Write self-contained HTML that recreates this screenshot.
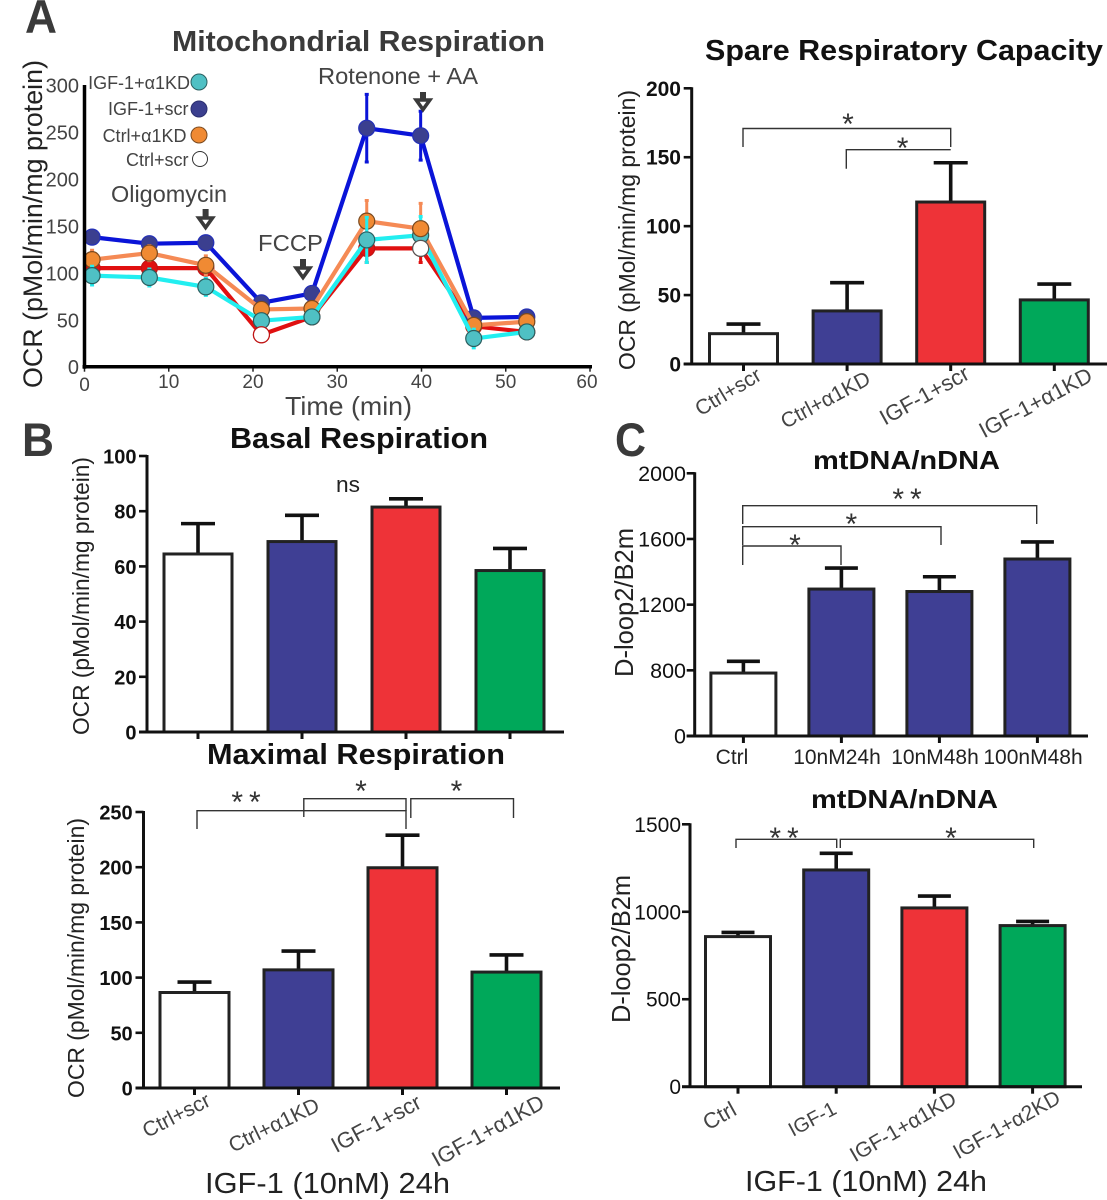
<!DOCTYPE html>
<html lang="en">
<head>
<meta charset="utf-8">
<title>Mitochondrial respiration figure</title>
<style>
html,body{margin:0;padding:0;background:#fff;}
svg{display:block;font-family:"Liberation Sans",Arial,sans-serif;}
.rot{font-size:21px;fill:#444;text-anchor:end;}
.br{fill:none;stroke:#333;stroke-width:1.4;}
.star{font-size:30px;fill:#333;text-anchor:middle;}
.dbl{letter-spacing:6px;}
.panel{font-size:47px;font-weight:bold;fill:#3a3a3a;}
.title{font-weight:bold;fill:#111;}
.ylab{fill:#222;}
.leg{font-size:18px;fill:#444;}
.note{font-size:23px;fill:#444;}
.arrow{fill:#fff;stroke:#3a3a3a;stroke-width:3.6;stroke-linejoin:miter;}
.shaft{stroke:#3a3a3a;stroke-width:6;}
</style>
</head>
<body>
<svg id="fig" width="1107" height="1200" viewBox="0 0 1107 1200" xmlns="http://www.w3.org/2000/svg">
<rect width="1107" height="1200" fill="#fff"/>

<text class="panel" x="25" y="33" textLength="32" lengthAdjust="spacingAndGlyphs">A</text>
<text class="panel" x="22" y="456" textLength="32" lengthAdjust="spacingAndGlyphs">B</text>
<text class="panel" x="615" y="456" textLength="31" lengthAdjust="spacingAndGlyphs">C</text>

<text class="title" x="172" y="51" font-size="29" style="fill:#3a3a3a" textLength="373" lengthAdjust="spacingAndGlyphs">Mitochondrial Respiration</text>
<text class="title" x="705" y="60" font-size="29" textLength="398" lengthAdjust="spacingAndGlyphs">Spare Respiratory Capacity</text>
<text class="title" x="230" y="448" font-size="29" textLength="258" lengthAdjust="spacingAndGlyphs">Basal Respiration</text>
<text class="title" x="207" y="764" font-size="29" textLength="298" lengthAdjust="spacingAndGlyphs">Maximal Respiration</text>
<text class="title" x="813" y="469" font-size="26" textLength="187" lengthAdjust="spacingAndGlyphs">mtDNA/nDNA</text>
<text class="title" x="811" y="808" font-size="26" textLength="187" lengthAdjust="spacingAndGlyphs">mtDNA/nDNA</text>

<text class="ylab" transform="translate(42,388) rotate(-90)" font-size="27" textLength="328" lengthAdjust="spacingAndGlyphs">OCR (pMol/min/mg protein)</text>
<text class="ylab" transform="translate(635,370) rotate(-90)" font-size="23" textLength="280" lengthAdjust="spacingAndGlyphs">OCR (pMol/min/mg protein)</text>
<text class="ylab" transform="translate(89,735) rotate(-90)" font-size="23" textLength="278" lengthAdjust="spacingAndGlyphs">OCR (pMol/min/mg protein)</text>
<text class="ylab" transform="translate(84,1098) rotate(-90)" font-size="23" textLength="280" lengthAdjust="spacingAndGlyphs">OCR (pMol/min/mg protein)</text>
<text class="ylab" transform="translate(633,677) rotate(-90)" font-size="26" textLength="149" lengthAdjust="spacingAndGlyphs">D-loop2/B2m</text>
<text class="ylab" transform="translate(630,1023) rotate(-90)" font-size="26" textLength="148" lengthAdjust="spacingAndGlyphs">D-loop2/B2m</text>

<text x="285" y="415" font-size="26" fill="#444" textLength="127" lengthAdjust="spacingAndGlyphs">Time (min)</text>
<text x="205" y="1193" font-size="29" fill="#222" textLength="245" lengthAdjust="spacingAndGlyphs">IGF-1 (10nM) 24h</text>
<text x="745" y="1191" font-size="29" fill="#222" textLength="242" lengthAdjust="spacingAndGlyphs">IGF-1 (10nM) 24h</text>
<text x="336" y="492" font-size="22" fill="#222" textLength="24" lengthAdjust="spacingAndGlyphs">ns</text>

<!-- Rotated category labels -->
<g>
<text class="rot" transform="translate(763,379) rotate(-31)">Ctrl+scr</text>
<text class="rot" transform="translate(872,383) rotate(-28)">Ctrl+α1KD</text>
<text class="rot" transform="translate(971,378) rotate(-29)" style="font-size:22px">IGF-1+scr</text>
<text class="rot" transform="translate(1094,380) rotate(-28)" style="font-size:22px">IGF-1+α1KD</text>
</g>
<g>
<text class="rot" transform="translate(212,1105) rotate(-27)">Ctrl+scr</text>
<text class="rot" transform="translate(321,1110) rotate(-26)">Ctrl+α1KD</text>
<text class="rot" transform="translate(423,1107) rotate(-28)" style="font-size:22px">IGF-1+scr</text>
<text class="rot" transform="translate(546,1107) rotate(-29)" style="font-size:22px">IGF-1+α1KD</text>
</g>
<g>
<text class="rot" transform="translate(738,1114) rotate(-29)" style="font-size:22px">Ctrl</text>
<text class="rot" transform="translate(838,1113) rotate(-28)" style="font-size:20px">IGF-1</text>
<text class="rot" transform="translate(958,1103) rotate(-30)">IGF-1+α1KD</text>
<text class="rot" transform="translate(1062,1102) rotate(-29)">IGF-1+α2KD</text>
</g>
<g font-size="21" fill="#222" text-anchor="middle">
<text x="732" y="764">Ctrl</text>
<text x="837" y="764">10nM24h</text>
<text x="935" y="764">10nM48h</text>
<text x="1033" y="764">100nM48h</text>
</g>

<!-- Significance brackets -->
<g>
<path class="br" d="M743 147V128.5H950.7V147"/>
<path class="br" d="M846.3 168.7V149.7H950.7"/>
<text class="star" x="848" y="134">*</text>
<text class="star" x="902.6" y="158">*</text>
</g>
<g>
<path class="br" d="M197 829V810.7H406V829"/>
<path class="br" d="M303.8 817V798.7H406V811"/>
<path class="br" d="M410.8 818V798.7H513.5V818"/>
<text class="star dbl" x="249" y="812">**</text>
<text class="star" x="361" y="801">*</text>
<text class="star" x="456.5" y="801">*</text>
</g>
<g>
<path class="br" d="M742.7 524V505.7H1036.7V524"/>
<path class="br" d="M742.7 545V526.7H941V545"/>
<path class="br" d="M742.7 565V546H841V565"/>
<text class="star dbl" x="910" y="509">**</text>
<text class="star" x="851.3" y="534">*</text>
<text class="star" x="795" y="555">*</text>
</g>
<g>
<path class="br" d="M736 848V839.3H836.7V848"/>
<path class="br" d="M840.3 848V839.3H1033.7V848"/>
<text class="star dbl" x="787" y="848">**</text>
<text class="star" x="951" y="848">*</text>
</g>

<!-- Treatment annotations -->
<text class="note" x="318" y="84" textLength="160" lengthAdjust="spacingAndGlyphs">Rotenone + AA</text>
<text class="note" x="111" y="202" textLength="116" lengthAdjust="spacingAndGlyphs">Oligomycin</text>
<text class="note" x="258" y="251" textLength="65" lengthAdjust="spacingAndGlyphs">FCCP</text>

<g id="line-chart"></g>

<g><line class="shaft" x1="423" y1="92" x2="423" y2="101"/><path class="arrow" d="M416.2 100H429.8L423 109.5Z"/></g>
<g><line class="shaft" x1="205.6" y1="209" x2="205.6" y2="218"/><path class="arrow" d="M198.8 218H212.4L205.6 227.5Z"/></g>
<g><line class="shaft" x1="303" y1="259" x2="303" y2="268"/><path class="arrow" d="M296.2 268H309.8L303 277.5Z"/></g>

<g id="legend">
<text class="leg" x="190" y="89" text-anchor="end">IGF-1+α1KD</text>
<circle cx="199" cy="82" r="8" fill="#4fc0c4" stroke="#2a5f60"/>
<text class="leg" x="188.5" y="115" text-anchor="end">IGF-1+scr</text>
<circle cx="199" cy="109" r="8" fill="#3b3f8f" stroke="#2b2f70"/>
<text class="leg" x="186.5" y="142" text-anchor="end">Ctrl+α1KD</text>
<circle cx="199" cy="135" r="8" fill="#f08a33" stroke="#7a4a20"/>
<text class="leg" x="188.5" y="166" text-anchor="end">Ctrl+scr</text>
<circle cx="200" cy="159" r="7.5" fill="#fff" stroke="#333"/>
</g>

<g id="bars"></g>
</svg>

<script>
/* ---------- Panel A: time course ---------- */
const timePoints = [0.9, 7.7, 14.4, 21, 27, 33.5, 39.9, 46.2, 52.5];
const xTickValues = [0, 10, 20, 30, 40, 50, 60];
const yTickValues = [0, 50, 100, 150, 200, 250, 300];
const ctrlScrOcr = [105, 105, 105, 34, 53, 126, 126, 43, 37];
const ctrlScrErr = [5, 5, 5, 4, 4, 15, 15, 4, 4];
const igfScrOcr = [138, 131, 132, 68, 78, 254, 246, 52, 53];
const igfScrErr = [5, 3, 3, 3, 3, 36, 26, 3, 3];
const ctrlKdOcr = [114, 121, 108, 61, 62, 155, 147, 44, 48];
const ctrlKdErr = [10, 8, 10, 5, 5, 22, 27, 5, 5];
const igfKdOcr = [97, 95, 85, 49, 53, 135, 140, 30, 37];
const igfKdErr = [10, 9, 9, 5, 5, 24, 20, 10, 5];

/* ---------- Bar charts ---------- */
const groupCategories = ['Ctrl+scr', 'Ctrl+a1KD', 'IGF-1+scr', 'IGF-1+a1KD'];
const spareTicks = [0, 50, 100, 150, 200];
const spareValues = [22, 38.5, 117.5, 46.5];
const spareErrorTops = [29, 59, 146, 58];
const basalTicks = [0, 20, 40, 60, 80, 100];
const basalValues = [64.5, 69, 81.5, 58.5];
const basalErrorTops = [75.5, 78.5, 84.5, 66.5];
const maximalTicks = [0, 50, 100, 150, 200, 250];
const maximalValues = [86.5, 107, 199.5, 105];
const maximalErrorTops = [96, 124, 229, 120.5];
const doseCategories = ['Ctrl', '10nM24h', '10nM48h', '100nM48h'];
const doseTicks = [0, 800, 1200, 1600, 2000];
const doseValues = [767, 1295, 1280, 1478];
const doseErrorTops = [855, 1423, 1370, 1582];
const kdCategories = ['Ctrl', 'IGF-1', 'IGF-1+a1KD', 'IGF-1+a2KD'];
const kdTicks = [0, 500, 1000, 1500];
const kdValues = [858, 1239, 1022, 921];
const kdErrorTops = [882, 1334, 1090, 945];

const SVGNS = 'http://www.w3.org/2000/svg';
function mk(parent, tag, attrs, text) {
  const el = document.createElementNS(SVGNS, tag);
  for (const k in attrs) el.setAttribute(k, attrs[k]);
  if (text !== undefined) el.textContent = text;
  parent.appendChild(el);
  return el;
}

/* Line chart axes */
const lineRoot = document.getElementById('line-chart');
const lineX = t => 84.5 + t * (590 - 84.5) / 60;
const lineY = v => 366.7 - v * (366.7 - 85) / 300;

function drawPoint(g, slug, t, v, fill, edge) {
  const dot = mk(g, 'circle', {
    cx: lineX(t), cy: lineY(v), r: 8,
    fill: fill, stroke: edge, 'stroke-width': 1.2
  });
  
  
}

function drawSeries(slug, times, vals, errs, lineColor, fill, edge) {
  const g = mk(lineRoot, 'g', {});
  
  
  vals.forEach((v, i) => {
    const x = lineX(times[i]);
    const bar = mk(g, 'path', {
      d: 'M' + (x - 2) + ' ' + lineY(v + errs[i]) + 'h4M' + x + ' ' + lineY(v + errs[i]) + 'V' + lineY(v - errs[i]) + 'M' + (x - 2) + ' ' + lineY(v - errs[i]) + 'h4',
      stroke: lineColor, 'stroke-width': 3, fill: 'none'
    });
    
    
  });
  const line = mk(g, 'polyline', {
    points: vals.map((v, i) => lineX(times[i]) + ',' + lineY(v)).join(' '),
    fill: 'none', stroke: lineColor, 'stroke-width': 4.2, 'stroke-linejoin': 'round'
  });
  
  
  vals.forEach((v, i) => drawPoint(g, slug, times[i], v, fill, edge));
}

yTickValues.forEach(v => {
  const t = mk(lineRoot, 'text', {
    x: 79, y: lineY(v) + 7.5, 'text-anchor': 'end', 'font-size': 20, fill: '#444'
  }, v);
  
  
});
xTickValues.forEach(v => {
  const t = mk(lineRoot, 'text', {
    x: lineX(v) - (v === 60 ? 3 : 0), y: v === 0 ? 391 : 388, 'text-anchor': 'middle', 'font-size': 19, fill: '#444'
  }, v);
  
  
  const m = mk(lineRoot, 'line', {
    x1: lineX(v), x2: lineX(v), y1: lineY(0), y2: lineY(0) + 5, stroke: '#222', 'stroke-width': 1.5
  });
  
  
});

/* Ctrl+scr markers sit under the others as red discs; only two read as white, on top */
drawSeries('ctrl-scr', timePoints, ctrlScrOcr, ctrlScrErr, '#e01010', '#e01010', '#c01515');
drawSeries('igf-scr', timePoints, igfScrOcr, igfScrErr, '#0a14d8', '#3b3f8f', '#2430b8');
drawSeries('ctrl-a1kd', timePoints, ctrlKdOcr, ctrlKdErr, '#f58a55', '#f08a33', '#7a4a20');
drawSeries('igf-a1kd', timePoints, igfKdOcr, igfKdErr, '#22eef0', '#4fc0c4', '#2a5f60');
const topLayer = mk(lineRoot, 'g', {});


drawPoint(topLayer, 'ctrl-a1kd-front', timePoints[6], ctrlKdOcr[6], '#f08a33', '#7a4a20');
drawPoint(topLayer, 'ctrl-scr-front', timePoints[3], ctrlScrOcr[3], '#fff', '#c01515');
drawPoint(topLayer, 'ctrl-scr-front', timePoints[6], ctrlScrOcr[6], '#fff', '#555');

const yAxisA = mk(lineRoot, 'line', {
  x1: lineX(0), x2: lineX(0), y1: lineY(300), y2: lineY(0) + 2, stroke: '#000', 'stroke-width': 3.5
});


const xAxisA = mk(lineRoot, 'line', {
  x1: lineX(0) - 2, x2: lineX(60) + 2, y1: lineY(0), y2: lineY(0), stroke: '#000', 'stroke-width': 3.5
});



/* Bar charts */
const barRoot = document.getElementById('bars');
function drawBars(slug, categories, values, errorTops, ticks, fills, c) {
  const g = mk(barRoot, 'g', {});
  
  
  const step = (c.base - c.top) / (ticks.length - 1);
  /* ticks are evenly spaced on the page, including the segmented dose axis */
  const yScale = v => {
    let i = 0;
    while (i < ticks.length - 2 && v > ticks[i + 1]) i++;
    return c.base - (i + (v - ticks[i]) / (ticks[i + 1] - ticks[i])) * step;
  };
  const xScale = i => c.first + i * c.step;

  categories.forEach((name, i) => {
    const x = xScale(i), yv = yScale(values[i]), ye = yScale(errorTops[i]);
    const err = mk(g, 'path', {
      d: 'M' + x + ' ' + yv + 'V' + ye + 'M' + (x - c.cap / 2) + ' ' + ye + 'H' + (x + c.cap / 2),
      stroke: '#111', 'stroke-width': 3.6, fill: 'none'
    });
    
    
    const bar = mk(g, 'rect', {
      x: x - c.width / 2, y: yv, width: c.width, height: c.base - yv,
      fill: fills[i], stroke: '#222', 'stroke-width': 3
    });
    
    
    const tick = mk(g, 'line', {
      x1: x, x2: x, y1: c.base, y2: c.base + 7, stroke: '#111', 'stroke-width': 3
    });
    
    
  });

  ticks.forEach(v => {
    const y = yScale(v);
    const tick = mk(g, 'line', {
      x1: c.axisX - 8, x2: c.axisX, y1: y, y2: y, stroke: '#111', 'stroke-width': 2.6
    });
    
    
    const label = mk(g, 'text', {
      x: c.labelX, y: y + 7.5, 'text-anchor': 'end', 'font-size': c.font,
      'font-weight': c.bold ? 'bold' : 'normal', fill: '#111'
    }, v);
    
    
  });

  const yAxis = mk(g, 'line', {
    x1: c.axisX, x2: c.axisX, y1: c.top - 1, y2: c.base, stroke: '#111', 'stroke-width': 3
  });
  
  
  const xAxis = mk(g, 'line', {
    x1: c.axisX - 8, x2: c.right, y1: c.base, y2: c.base, stroke: '#111', 'stroke-width': 3
  });
  
  
}

const WHITE = '#ffffff', NAVY = '#3f3f94', RED = '#ee3338', GREEN = '#00a85a';
drawBars('spare', groupCategories, spareValues, spareErrorTops, spareTicks, [WHITE, NAVY, RED, GREEN],
  { first: 743.5, step: 103.6, width: 68, cap: 34, top: 88.3, base: 364, axisX: 691.7, right: 1107, labelX: 681, font: 21, bold: true });
drawBars('basal', groupCategories, basalValues, basalErrorTops, basalTicks, [WHITE, NAVY, RED, GREEN],
  { first: 198, step: 104, width: 68, cap: 34, top: 456, base: 732, axisX: 147, right: 564, labelX: 136.5, font: 20, bold: true });
drawBars('maximal', groupCategories, maximalValues, maximalErrorTops, maximalTicks, [WHITE, NAVY, RED, GREEN],
  { first: 194.5, step: 104, width: 69, cap: 34, top: 812, base: 1088, axisX: 143.5, right: 560, labelX: 132.7, font: 20, bold: true });
drawBars('mtdna-dose', doseCategories, doseValues, doseErrorTops, doseTicks, [WHITE, NAVY, NAVY, NAVY],
  { first: 743.4, step: 98, width: 65, cap: 33, top: 473.3, base: 736, axisX: 694.7, right: 1088, labelX: 686, font: 21.5, bold: false });
drawBars('mtdna-kd', kdCategories, kdValues, kdErrorTops, kdTicks, [WHITE, NAVY, RED, GREEN],
  { first: 738, step: 98.2, width: 65, cap: 33, top: 824.3, base: 1086.7, axisX: 690, right: 1082, labelX: 681, font: 21, bold: false });
</script>
</body>
</html>
